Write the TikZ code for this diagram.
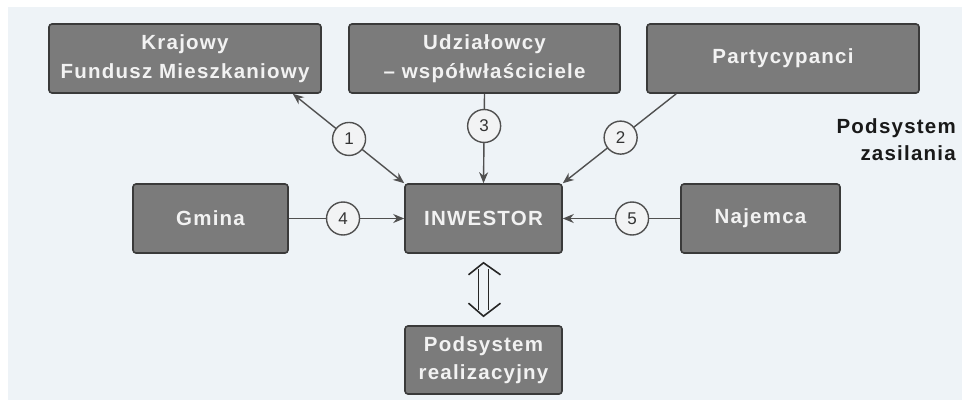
\documentclass[tikz,border=0pt]{standalone}
\usepackage{fontspec}
\setmainfont{Liberation Sans}
\newfontfamily\spacedsans[LetterSpace=6]{Liberation Sans}
\usetikzlibrary{arrows.meta,calc}
\definecolor{bgpanel}{HTML}{EEF3F7}
\definecolor{boxfill}{HTML}{7B7B7B}
\definecolor{boxline}{HTML}{3A3A3A}
\definecolor{linkcol}{HTML}{505050}
\definecolor{numfill}{HTML}{F2F3F4}
\begin{document}
\begin{tikzpicture}[x=1pt,y=-1pt,
  block/.style={draw=boxline, line width=1.6pt, fill=boxfill, rounded corners=3pt,
    inner sep=0pt, minimum height=69pt, align=center, text=white!95!black,
    font=\spacedsans\bfseries\fontsize{20.5}{28.5}\selectfont},
  num/.style={circle, draw=linkcol, line width=1.4pt, fill=numfill, inner sep=0pt,
    minimum size=33pt, text=black!80, font=\fontsize{17}{17}\selectfont},
  link/.style={draw=linkcol, line width=1.4pt, -{Stealth[length=11pt,width=9pt]}},
  bilink/.style={link, {Stealth[length=11pt,width=9pt]}-{Stealth[length=11pt,width=9pt]}},
  hollow/.style={draw=black!85, line width=1.6pt}]
  \useasboundingbox (0,0) rectangle (962,400);
  % panel behind the diagram
  \fill[bgpanel] (8,7) rectangle (962,400);

  % boxes of the supply subsystem
  \node[block, minimum width=272pt] (kfm) at (185,58.5) {Krajowy\\Fundusz Mieszkaniowy};
  \node[block, minimum width=271pt] (udz) at (484.5,58.5) {Udziałowcy\\– współwłaściciele};
  \node[block, minimum width=272pt] (par) at (783,58.5) {Partycypanci};
  \node[block, minimum width=155pt] (gmi) at (210.5,218.5) {Gmina};
  \node[block, minimum width=157pt] (inv) at (483.5,218.5) {INWESTOR};
  \node[block, minimum width=159pt] (naj) at (760.5,218.5) {Najemca};
  \node[block, minimum width=157pt, minimum height=68pt] (pod) at (483.5,360) {Podsystem\\realizacyjny};

  \node[anchor=east, align=right, inner sep=0pt,
    font=\spacedsans\bfseries\fontsize{20.5}{27}\selectfont, text=black!90]
    (zas) at (956,140) {Podsystem\\zasilania};

  % end points on the box edges
  \coordinate (k1) at ($(kfm.south east)+(-29,0)$);
  \coordinate (p1) at ($(par.south west)+(30,0)$);

  % numbered flows towards the investor
  \draw[bilink] (k1) -- node[num, pos=0.505] (n1) {1} (inv.north west);
  \draw[link] (p1) -- node[num, pos=0.49] (n2) {2} (inv.north east);
  \draw[link] (udz.south) -- node[num, pos=0.36] (n3) {3} (inv.north);
  \draw[link] (gmi.east) -- node[num, pos=0.47] (n4) {4} (inv.west);
  \draw[link] (naj.west) -- node[num, pos=0.41] (n5) {5} (inv.east);

  % open double arrow between the investor and the realisation subsystem
  \coordinate (ha) at ($(inv.south)+(0,9)$);
  \coordinate (hb) at ($(pod.north)+(0,-9)$);
  \draw[hollow, line join=miter] ($(ha)+(-15,12)$) -- (ha) -- ($(ha)+(17,12)$);
  \draw[hollow, line join=miter] ($(hb)+(-15,-13)$) -- (hb) -- ($(hb)+(17,-13)$);
  \draw[hollow] ($(ha)+(-5,6)$) -- ($(hb)+(-5,-6)$);
  \draw[hollow] ($(ha)+(5,6)$) -- ($(hb)+(5,-6)$);
\end{tikzpicture}
\end{document}
